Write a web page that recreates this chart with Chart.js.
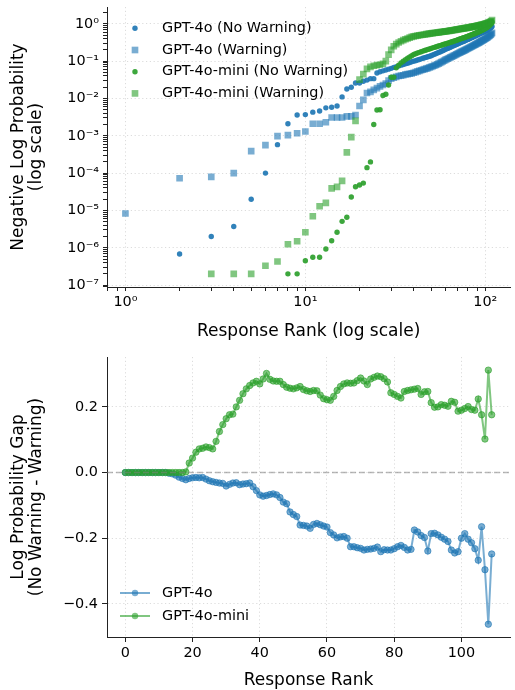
<!DOCTYPE html>
<html>
<head>
<meta charset="utf-8">
<script src="https://cdn.jsdelivr.net/npm/chart.js@4/dist/chart.umd.min.js"></script>
<style>
  html, body { margin: 0; padding: 0; background: #fff; }
  .box { position: relative; width: 515px; height: 345px; }
</style>
</head>
<body>
<div class="box"><canvas id="chartRank"></canvas></div>
<div class="box"><canvas id="chartGap"></canvas></div>
<script>
// ---- data: negative log probability by response rank (rank = index + 1) ----
var gpt4oNoWarn = [
  null, 6.8e-7, 2.0e-6, 3.7e-6, 2.0e-5, 1.0e-4, 5.8e-4, 2.1e-3, 3.6e-3, 3.7e-3,
  4.3e-3, 4.6e-3, 5.6e-3, 5.8e-3, 6.3e-3, 1.1e-2, 1.8e-2, 2.0e-2, 2.6e-2, 2.6e-2,
  2.9e-2, 3.1e-2, 3.4e-2, 3.4e-2, 0.048, 0.052, 0.055, 0.058, 0.061, 0.064,
  0.068, 0.071, 0.074, 0.078, 0.081, 0.085, 0.088, 0.092, 0.096, 0.100,
  0.103, 0.107, 0.111, 0.115, 0.119, 0.123, 0.127, 0.131, 0.135, 0.140,
  0.146, 0.152, 0.158, 0.164, 0.170, 0.177, 0.184, 0.191, 0.199, 0.207,
  0.214, 0.221, 0.229, 0.237, 0.245, 0.253, 0.262, 0.271, 0.280, 0.289,
  0.297, 0.306, 0.315, 0.324, 0.333, 0.342, 0.352, 0.362, 0.372, 0.382,
  0.393, 0.404, 0.415, 0.426, 0.438, 0.450, 0.462, 0.475, 0.488, 0.501,
  0.514, 0.527, 0.541, 0.555, 0.569, 0.583, 0.598, 0.613, 0.628, 0.644,
  0.660, 0.677, 0.695, 0.714, 0.735, 0.757, 0.780, 0.81, 0.85
];
var gpt4oWarn = [
  8.3e-6, 7.3e-5, 7.9e-5, 1.0e-4, 3.9e-4, 5.6e-4, 9.8e-4, 1.04e-3, 1.17e-3, 1.3e-3,
  2.1e-3, 2.1e-3, 2.3e-3, 3.1e-3, 3.1e-3, 3.1e-3, 3.3e-3, 3.3e-3, 3.6e-3, 6.3e-3,
  9.2e-3, 1.4e-2, 1.5e-2, 1.7e-2, 1.9e-2, 2.1e-2, 2.3e-2, 2.5e-2, 3.0e-2, 3.4e-2,
  0.036, 0.038, 0.040, 0.041, 0.042, 0.044, 0.045, 0.046, 0.047, 0.049,
  0.051, 0.053, 0.055, 0.057, 0.059, 0.061, 0.063, 0.065, 0.068, 0.070,
  0.073, 0.076, 0.079, 0.082, 0.086, 0.090, 0.094, 0.098, 0.103, 0.108,
  0.112, 0.117, 0.121, 0.126, 0.131, 0.136, 0.141, 0.146, 0.152, 0.158,
  0.163, 0.169, 0.174, 0.180, 0.186, 0.192, 0.198, 0.204, 0.211, 0.218,
  0.225, 0.232, 0.239, 0.246, 0.254, 0.262, 0.270, 0.278, 0.287, 0.296,
  0.305, 0.314, 0.323, 0.333, 0.343, 0.353, 0.363, 0.374, 0.386, 0.398,
  0.411, 0.425, 0.440, 0.456, 0.473, 0.492, 0.513, 0.537, 0.57
];
var miniNoWarn = [
  null, null, null, null, null, null, null, 2.0e-7, 2.0e-7, 4.5e-7,
  5.6e-7, 5.6e-7, 9.3e-7, 1.55e-6, 2.6e-6, 5.1e-6, 6.6e-6, 2.3e-5, 4.3e-5, 4.8e-5,
  5.4e-5, 1.4e-4, 2.0e-4, 2.0e-3, 4.9e-3, 5.0e-3, 1.2e-2, 1.3e-2, 2.3e-2, 3.7e-2,
  3.7e-2, 0.066, 0.078, 0.090, 0.100, 0.110, 0.120, 0.130, 0.140, 0.150,
  0.158, 0.165, 0.172, 0.179, 0.186, 0.193, 0.199, 0.206, 0.213, 0.220,
  0.227, 0.234, 0.240, 0.247, 0.254, 0.261, 0.268, 0.276, 0.283, 0.290,
  0.297, 0.304, 0.312, 0.320, 0.328, 0.336, 0.344, 0.352, 0.361, 0.370,
  0.379, 0.388, 0.397, 0.406, 0.415, 0.424, 0.434, 0.444, 0.454, 0.464,
  0.475, 0.486, 0.497, 0.508, 0.520, 0.532, 0.544, 0.557, 0.570, 0.583,
  0.597, 0.611, 0.626, 0.641, 0.657, 0.674, 0.692, 0.711, 0.731, 0.752,
  0.775, 0.800, 0.827, 0.857, 0.890, 0.93, 0.98, 1.04, 1.12
];
var miniWarn = [
  null, null, 2.0e-7, 2.0e-7, 2.0e-7, 3.3e-7, 4.3e-7, 1.24e-6, 1.5e-6, 2.6e-6,
  7.0e-6, 1.3e-5, 1.6e-5, 3.9e-5, 4.3e-5, 6.2e-5, 3.6e-4, 9.2e-4, 2.5e-3, 0.032,
  0.045, 0.062, 0.070, 0.075, 0.078, 0.080, 0.085, 0.100, 0.150, 0.200,
  0.250, 0.285, 0.315, 0.340, 0.365, 0.385, 0.405, 0.425, 0.445, 0.460,
  0.472, 0.483, 0.493, 0.502, 0.510, 0.518, 0.527, 0.536, 0.545, 0.555,
  0.562, 0.569, 0.576, 0.583, 0.590, 0.597, 0.604, 0.611, 0.618, 0.625,
  0.633, 0.641, 0.649, 0.657, 0.665, 0.673, 0.681, 0.690, 0.699, 0.708,
  0.716, 0.724, 0.732, 0.740, 0.748, 0.756, 0.764, 0.772, 0.780, 0.788,
  0.797, 0.806, 0.815, 0.824, 0.833, 0.842, 0.851, 0.860, 0.870, 0.880,
  0.890, 0.900, 0.911, 0.922, 0.933, 0.945, 0.957, 0.970, 0.983, 0.997,
  1.012, 1.028, 1.045, 1.063, 1.083, 1.105, 1.13, 1.17, 1.25
];

// ---- data: log probability gap (No Warning - Warning) by response rank (rank = index) ----
var gpt4oGap = [
  0, 0, 0, 0, 0, 0, 0, 0, 0, 0,
  0, 0, 0, -0.002, -0.004, -0.008, -0.014, -0.018, -0.022, -0.018,
  -0.016, -0.015, -0.016, -0.015, -0.020, -0.025, -0.028, -0.030, -0.032, -0.033,
  -0.041, -0.036, -0.032, -0.031, -0.037, -0.035, -0.034, -0.032, -0.043, -0.055,
  -0.068, -0.072, -0.070, -0.067, -0.065, -0.068, -0.076, -0.090, -0.095, -0.120,
  -0.128, -0.134, -0.160, -0.161, -0.163, -0.170, -0.158, -0.155, -0.159, -0.163,
  -0.166, -0.183, -0.190, -0.199, -0.196, -0.195, -0.200, -0.226, -0.226, -0.229,
  -0.231, -0.236, -0.234, -0.233, -0.231, -0.227, -0.241, -0.235, -0.236, -0.236,
  -0.232, -0.226, -0.222, -0.228, -0.236, -0.234, -0.175, -0.181, -0.192, -0.198,
  -0.239, -0.186, -0.185, -0.190, -0.197, -0.203, -0.210, -0.236, -0.245, -0.241,
  -0.200, -0.186, -0.203, -0.214, -0.232, -0.267, -0.165, -0.296, -0.462, -0.248
];
var miniGap = [
  0, 0, 0, 0, 0, 0, 0, 0, 0, 0,
  0, 0, 0, 0, 0, 0, 0, 0, 0.002, 0.029,
  0.044, 0.062, 0.072, 0.074, 0.078, 0.076, 0.072, 0.095, 0.125, 0.146,
  0.164, 0.176, 0.178, 0.200, 0.220, 0.240, 0.255, 0.265, 0.273, 0.278,
  0.270, 0.285, 0.302, 0.284, 0.279, 0.278, 0.278, 0.268, 0.260, 0.257,
  0.255, 0.258, 0.262, 0.253, 0.249, 0.247, 0.250, 0.249, 0.236, 0.225,
  0.222, 0.220, 0.232, 0.250, 0.262, 0.270, 0.273, 0.272, 0.273, 0.280,
  0.288, 0.279, 0.268, 0.285, 0.290, 0.294, 0.292, 0.286, 0.276, 0.243,
  0.238, 0.232, 0.227, 0.247, 0.250, 0.252, 0.254, 0.256, 0.238, 0.246,
  0.247, 0.213, 0.199, 0.200, 0.207, 0.205, 0.202, 0.217, 0.214, 0.187,
  0.190, 0.195, 0.201, 0.192, 0.190, 0.224, 0.176, 0.102, 0.312, 0.176
];

// ---- tick values ----
var rankDecades = [0.1, 1, 10, 100];
var nlpDecades = [1e-8, 1e-7, 1e-6, 1e-5, 1e-4, 1e-3, 1e-2, 1e-1, 1];
var minorSteps = [1, 2, 3, 4, 5, 6, 7, 8, 9];
var gapRankTicks = [0, 20, 40, 60, 80, 100];
var gapValueTicks = [-0.4, -0.2, 0.0, 0.2];

var FONT = "'DejaVu Sans', sans-serif";
var BLUE = 'rgba(31,119,180,0.92)';
var BLUE_A = 'rgba(31,119,180,0.6)';
var GREEN = 'rgba(44,160,44,0.92)';
var GREEN_A = 'rgba(44,160,44,0.6)';
var GRID = '#dcdcdc';
var SPINE = '#222';

Chart.defaults.font.family = FONT;
Chart.defaults.color = '#000';

var SUP = { '-': '\u207B', '0': '\u2070', '1': '\u00B9', '2': '\u00B2', '3': '\u00B3',
  '4': '\u2074', '5': '\u2075', '6': '\u2076', '7': '\u2077', '8': '\u2078', '9': '\u2079' };

function isPow10(v) {
  var l = Math.log10(v);
  return Math.abs(l - Math.round(l)) < 1e-9;
}
function powLabel(v) {
  var e = String(Math.round(Math.log10(v)));
  return '10' + e.split('').map(function (c) { return SUP[c]; }).join('');
}
function logTickBuilder(decades) {
  return function (scale) {
    var out = [];
    decades.forEach(function (d) {
      minorSteps.forEach(function (k) {
        var v = d * k;
        if (v >= scale.min && v <= scale.max) out.push({ value: v, major: isPow10(v) });
      });
    });
    scale.ticks = out;
  };
}
function fixedTicks(list) {
  return function (scale) {
    scale.ticks = list.map(function (v) { return { value: v, major: true }; });
  };
}
// fixed axis box size, and no extra room reserved for edge labels
function fitBox(prop, size) {
  return function (scale) {
    scale[prop] = size;
    scale.paddingTop = 0;
    scale.paddingBottom = 0;
    scale.paddingLeft = 0;
    scale.paddingRight = 0;
  };
}
function toPoints(values, start) {
  var pts = [];
  values.forEach(function (v, i) {
    if (v !== null) pts.push({ x: i + start, y: v });
  });
  return pts;
}
function majorGrid(ctx) {
  return ctx.tick && ctx.tick.major ? GRID : 'rgba(0,0,0,0)';
}

// legend drawn inside the plot area, in the matplotlib manner
var insetLegend = {
  id: 'insetLegend',
  afterDraw: function (chart, args, opts) {
    var ctx = chart.ctx, area = chart.chartArea;
    ctx.save();
    ctx.font = opts.fontSize + 'px ' + FONT;
    ctx.textBaseline = 'middle';
    ctx.fillStyle = '#000';
    chart.data.datasets.forEach(function (ds, i) {
      var y = area.top + opts.top + i * opts.rowHeight;
      var x = area.left + opts.left;
      if (opts.lines) {
        ctx.strokeStyle = ds.borderColor;
        ctx.lineWidth = ds.borderWidth;
        ctx.beginPath();
        ctx.moveTo(x - 15, y);
        ctx.lineTo(x + 15, y);
        ctx.stroke();
      }
      ctx.fillStyle = ds.pointBackgroundColor;
      if (ds.pointStyle === 'rect') {
        var s = ds.pointRadius * Math.SQRT1_2;
        ctx.fillRect(x - s, y - s, 2 * s, 2 * s);
      } else {
        ctx.beginPath();
        ctx.arc(x, y, ds.pointRadius, 0, Math.PI * 2);
        ctx.fill();
      }
      ctx.fillStyle = '#000';
      ctx.fillText(ds.label, area.left + opts.textLeft, y);
    });
    ctx.restore();
  }
};

var zeroLine = {
  id: 'zeroLine',
  afterDatasetsDraw: function (chart) {
    var ctx = chart.ctx, area = chart.chartArea;
    var y = chart.scales.y.getPixelForValue(0);
    ctx.save();
    ctx.strokeStyle = 'rgba(128,128,128,0.55)';
    ctx.lineWidth = 1.4;
    ctx.setLineDash([6, 3]);
    ctx.beginPath();
    ctx.moveTo(area.left, y);
    ctx.lineTo(area.right, y);
    ctx.stroke();
    ctx.restore();
  }
};

function scatterSet(label, values, style, color, radius, order) {
  return {
    label: label,
    data: toPoints(values, 1),
    pointStyle: style,
    pointRadius: radius,
    pointBackgroundColor: color,
    backgroundColor: color,
    pointBorderWidth: 0,
    borderWidth: 0,
    order: order
  };
}

new Chart(document.getElementById('chartRank'), {
  type: 'scatter',
  data: {
    datasets: [
      scatterSet('GPT-4o (No Warning)', gpt4oNoWarn, 'circle', BLUE, 2.7, 4),
      scatterSet('GPT-4o (Warning)', gpt4oWarn, 'rect', BLUE_A, 4.7, 3),
      scatterSet('GPT-4o-mini (No Warning)', miniNoWarn, 'circle', GREEN, 2.7, 2),
      scatterSet('GPT-4o-mini (Warning)', miniWarn, 'rect', GREEN_A, 4.7, 1)
    ]
  },
  options: {
    responsive: true,
    maintainAspectRatio: false,
    animation: false,
    devicePixelRatio: 1,
    events: [],
    layout: { padding: { top: 7, right: 2, left: 0, bottom: 0 } },
    plugins: {
      legend: { display: false },
      tooltip: { enabled: false },
      insetLegend: { fontSize: 14.4, top: 21.3, rowHeight: 21.7, left: 28, textLeft: 55 }
    },
    scales: {
      x: {
        type: 'logarithmic',
        min: 0.79,
        max: 137.7,
        afterBuildTicks: logTickBuilder(rankDecades),
        afterFit: fitBox('height', 58),
        ticks: {
          autoSkip: false,
          maxRotation: 0,
          padding: 3,
          font: { size: 14.4 },
          callback: function (v) { return isPow10(v) ? powLabel(v) : ''; }
        },
        grid: { color: majorGrid, lineWidth: 1, tickColor: SPINE, tickLength: 4 },
        border: { display: true, color: SPINE, width: 1, dash: [1.2, 2.6] },
        title: {
          display: true,
          text: 'Response Rank (log scale)',
          font: { size: 17, lineHeight: 1.2 },
          padding: { top: 0, bottom: 3 }
        }
      },
      y: {
        type: 'logarithmic',
        min: 8.9e-8,
        max: 2.82,
        afterBuildTicks: logTickBuilder(nlpDecades),
        afterFit: fitBox('width', 107),
        ticks: {
          autoSkip: false,
          padding: 4,
          font: { size: 14.4 },
          callback: function (v) { return isPow10(v) ? powLabel(v) : ''; }
        },
        grid: { color: majorGrid, lineWidth: 1, tickColor: SPINE, tickLength: 4 },
        border: { display: true, color: SPINE, width: 1, dash: [1.2, 2.6] },
        title: {
          display: true,
          text: ['Negative Log Probability', '(log scale)'],
          font: { size: 17, lineHeight: 1.1 },
          padding: { top: 9, bottom: 0 }
        }
      }
    }
  },
  plugins: [insetLegend]
});

function gapSet(label, values, color, order) {
  return {
    label: label,
    data: toPoints(values, 0),
    showLine: true,
    borderColor: color,
    borderWidth: 2,
    pointStyle: 'circle',
    pointRadius: 3.2,
    pointBackgroundColor: color,
    pointBorderColor: color,
    pointBorderWidth: 1,
    order: order
  };
}

new Chart(document.getElementById('chartGap'), {
  type: 'scatter',
  data: {
    datasets: [
      gapSet('GPT-4o', gpt4oGap, BLUE_A, 2),
      gapSet('GPT-4o-mini', miniGap, GREEN_A, 1)
    ]
  },
  options: {
    responsive: true,
    maintainAspectRatio: false,
    animation: false,
    devicePixelRatio: 1,
    events: [],
    layout: { padding: { top: 12, right: 2, left: 0, bottom: 0 } },
    plugins: {
      legend: { display: false },
      tooltip: { enabled: false },
      insetLegend: { fontSize: 14.4, top: 236, rowHeight: 23, left: 28, textLeft: 55, lines: true }
    },
    scales: {
      x: {
        type: 'linear',
        min: -5.45,
        max: 114.45,
        afterBuildTicks: fixedTicks(gapRankTicks),
        afterFit: fitBox('height', 53),
        ticks: { autoSkip: false, maxRotation: 0, padding: 3, font: { size: 14.4 } },
        grid: { color: GRID, lineWidth: 1, tickColor: SPINE, tickLength: 5 },
        border: { display: true, color: SPINE, width: 1, dash: [1.2, 2.6] },
        title: {
          display: true,
          text: 'Response Rank',
          font: { size: 17, lineHeight: 1.0 },
          padding: { top: 0, bottom: 1 }
        }
      },
      y: {
        type: 'linear',
        min: -0.501,
        max: 0.352,
        afterBuildTicks: fixedTicks(gapValueTicks),
        afterFit: fitBox('width', 107),
        ticks: {
          autoSkip: false,
          padding: 4,
          font: { size: 14.4 },
          callback: function (v) {
            var s = Math.abs(v).toFixed(1);
            return v < -1e-9 ? '\u2212' + s : s;
          }
        },
        grid: { color: GRID, lineWidth: 1, tickColor: SPINE, tickLength: 5 },
        border: { display: true, color: SPINE, width: 1, dash: [1.2, 2.6] },
        title: {
          display: true,
          text: ['Log Probability Gap', '(No Warning - Warning)'],
          font: { size: 17, lineHeight: 1.1 },
          padding: { top: 9, bottom: 0 }
        }
      }
    }
  },
  plugins: [insetLegend, zeroLine]
});
</script>
</body>
</html>
